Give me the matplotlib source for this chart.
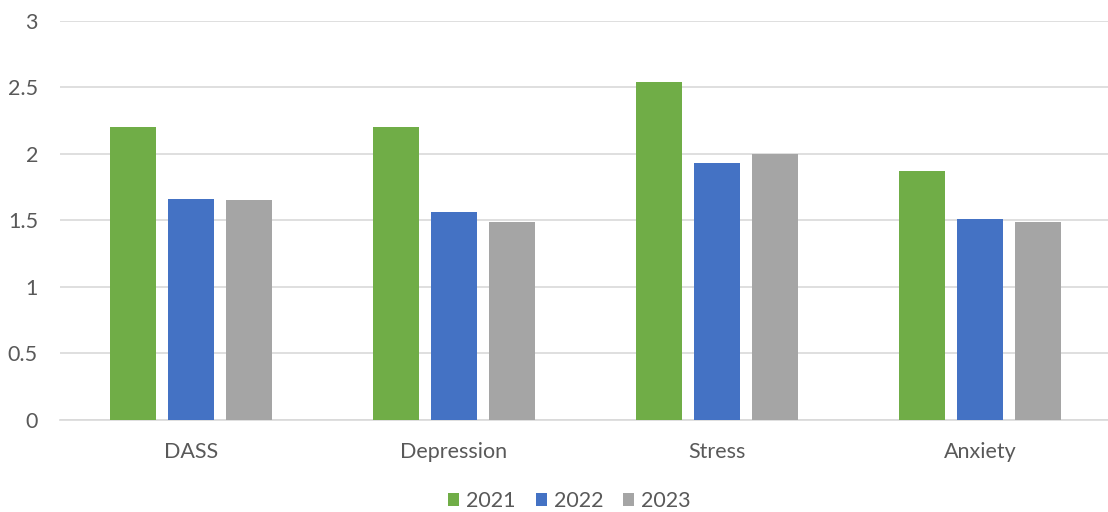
import matplotlib
matplotlib.use("Agg")
import matplotlib.pyplot as plt
import numpy as np

categories = ["DASS", "Depression", "Stress", "Anxiety"]
years = ["2021", "2022", "2023"]
values_2021 = [2.20, 2.20, 2.54, 1.87]
values_2022 = [1.66, 1.56, 1.93, 1.51]
values_2023 = [1.65, 1.49, 2.00, 1.49]
y_ticks = [0, 0.5, 1, 1.5, 2, 2.5, 3]

colors = ["#70AD47", "#4472C4", "#A5A5A5"]
text_color = "#595959"
font_size = 15.5

plt.rcParams["font.family"] = ["Lato", "DejaVu Sans"]

W, H = 1108, 512
fig = plt.figure(figsize=(W / 100, H / 100), dpi=100)
left_px, right_px, top_px, bottom_px = 59.5, 1111.5, 20.7, 420
ax = fig.add_axes([left_px / W, 1 - bottom_px / H,
                   (right_px - left_px) / W, (bottom_px - top_px) / H])

x = np.arange(len(categories))
bar_w = 0.175
step = 0.2205
series = [values_2021, values_2022, values_2023]
for i, (vals, lab, col) in enumerate(zip(series, years, colors)):
    ax.bar(x + (i - 1) * step, vals, width=bar_w, color=col, label=lab, zorder=3)

ax.set_xlim(-0.5, len(categories) - 0.5)
ax.set_ylim(0, 3)
ax.set_yticks(y_ticks)
ax.set_yticklabels([f"{t:g}" for t in y_ticks])
ax.set_xticks(x)
ax.set_xticklabels(categories)
ax.yaxis.grid(True, color="#D9D9D9", linewidth=1.2, zorder=0)
ax.set_axisbelow(True)
for s in ["top", "right", "left"]:
    ax.spines[s].set_visible(False)
ax.spines["bottom"].set_color("#D9D9D9")
ax.spines["bottom"].set_linewidth(1.2)
ax.tick_params(axis="both", length=0, labelsize=font_size, colors=text_color)
ax.tick_params(axis="y", pad=15.5)
ax.tick_params(axis="x", pad=16)

leg = fig.legend(loc="center", bbox_to_anchor=(569.5 / W, 1 - 501 / H), ncol=3,
                 frameon=False, fontsize=font_size, handlelength=0.51,
                 handleheight=0.51, handletextpad=0.33, columnspacing=0.93,
                 borderpad=0)
for t in leg.get_texts():
    t.set_color(text_color)

fig.savefig("out.png", dpi=100)
